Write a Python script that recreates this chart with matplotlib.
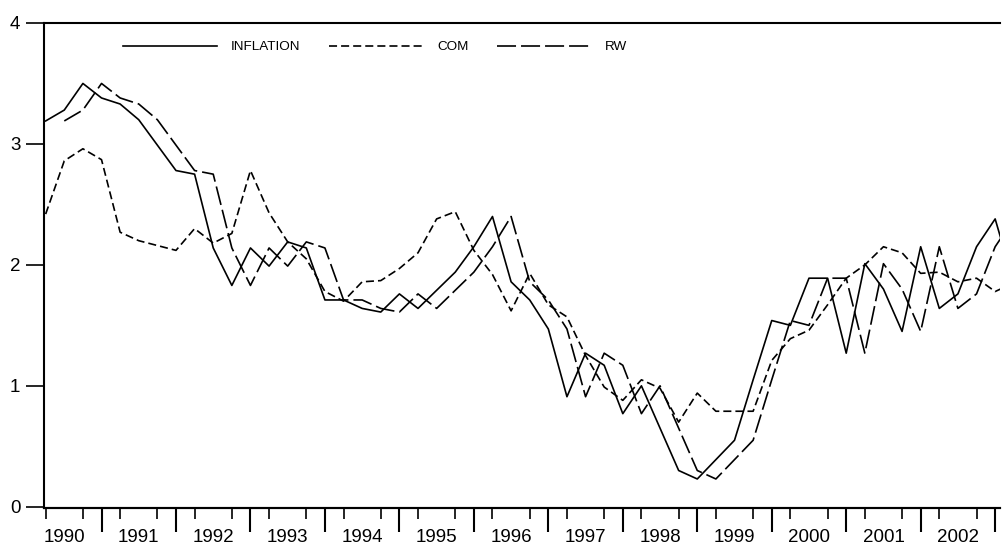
import numpy as np
import matplotlib
matplotlib.use("Agg")
import matplotlib.pyplot as plt

plt.rcParams['font.family'] = ['Liberation Sans', 'DejaVu Sans']
plt.rcParams['lines.scale_dashes'] = False

years = list(range(1990, 2003))

inflation = [3.19, 3.28, 3.50, 3.38, 3.33, 3.20, 2.99, 2.78, 2.75, 2.14,
             1.83, 2.14, 1.99, 2.19, 2.14, 1.71, 1.71, 1.64, 1.61, 1.76,
             1.64, 1.79, 1.94, 2.15, 2.40, 1.86, 1.71, 1.47, 0.91, 1.27,
             1.17, 0.77, 1.00, 0.65, 0.30, 0.23, 0.39, 0.55, 1.05, 1.54,
             1.50, 1.89, 1.89, 1.27, 2.01, 1.80, 1.45, 2.15, 1.64, 1.76,
             2.15, 2.38, 1.85]

com = [2.42, 2.86, 2.96, 2.87, 2.27, 2.20, 2.16, 2.12, 2.30, 2.18,
       2.26, 2.78, 2.43, 2.19, 2.05, 1.78, 1.70, 1.86, 1.87, 1.97,
       2.10, 2.38, 2.44, 2.12, 1.92, 1.62, 1.93, 1.67, 1.57, 1.25,
       0.99, 0.88, 1.05, 0.98, 0.70, 0.94, 0.79, 0.79, 0.79, 1.21,
       1.39, 1.46, 1.67, 1.89, 2.00, 2.15, 2.10, 1.93, 1.94, 1.86,
       1.89, 1.78, 1.85]

rw = [np.nan, 3.19, 3.28, 3.50, 3.38, 3.33, 3.20, 2.99, 2.78, 2.75,
      2.14, 1.83, 2.14, 1.99, 2.19, 2.14, 1.71, 1.71, 1.64, 1.61,
      1.76, 1.64, 1.79, 1.94, 2.15, 2.40, 1.86, 1.71, 1.47, 0.91,
      1.27, 1.17, 0.77, 1.00, 0.65, 0.30, 0.23, 0.39, 0.55, 1.05,
      1.54, 1.50, 1.89, 1.89, 1.27, 2.01, 1.80, 1.45, 2.15, 1.64,
      1.76, 2.15, 2.38]

x = np.arange(len(inflation))

fig = plt.figure(figsize=(10.02, 5.47), dpi=100)
ax = fig.add_axes([0.0439, 0.0713, 0.998 - 0.0439, 0.958 - 0.0713])

lw = 1.2
ax.plot(x, inflation, color='black', lw=lw, linestyle='-', label='INFLATION')
ax.plot(x, com, color='black', lw=lw, linestyle=(0, (5.8, 2.9)), label='COM')
ax.plot(x, rw, color='black', lw=lw, linestyle=(0, (13.7, 3.6)), label='RW')

ax.set_xlim(-0.09, 51.26)
ax.set_ylim(-0.01, 4.0)

for s in ['left', 'bottom', 'top']:
    ax.spines[s].set_linewidth(1.5)
ax.spines['right'].set_visible(False)

ax.set_yticks([0, 1, 2, 3, 4])
ax.set_yticklabels(['0', '1', '2', '3', '4'])
ax.tick_params(axis='y', length=13, width=1.2, pad=4, labelsize=13.5, direction='out')

# year labels (no tick), quarter ticks (minor), year-boundary ticks (secondary axis)
label_pos = [4 * k + 1 for k in range(len(years))]
ax.set_xticks(label_pos)
ax.set_xticklabels([str(y) for y in years])
ax.tick_params(axis='x', which='major', length=0, pad=15, labelsize=13.5)
ax.set_xticks(np.arange(0, 52), minor=True)
ax.tick_params(axis='x', which='minor', length=8, width=1.2, direction='out')

sec = ax.secondary_xaxis('bottom')
sec.set_xticks([4 * k + 3 for k in range(len(years))])
sec.set_xticklabels([])
sec.tick_params(length=17, width=1.5, direction='out')
sec.spines['bottom'].set_linewidth(1.5)

leg = ax.legend(loc='center left', bbox_to_anchor=(0.0826, 0.95), ncol=3,
                frameon=False, fontsize=9.7, handlelength=7.0,
                handletextpad=1.0, columnspacing=2.15, borderpad=0,
                borderaxespad=0)

fig.savefig('out.png', dpi=100)
